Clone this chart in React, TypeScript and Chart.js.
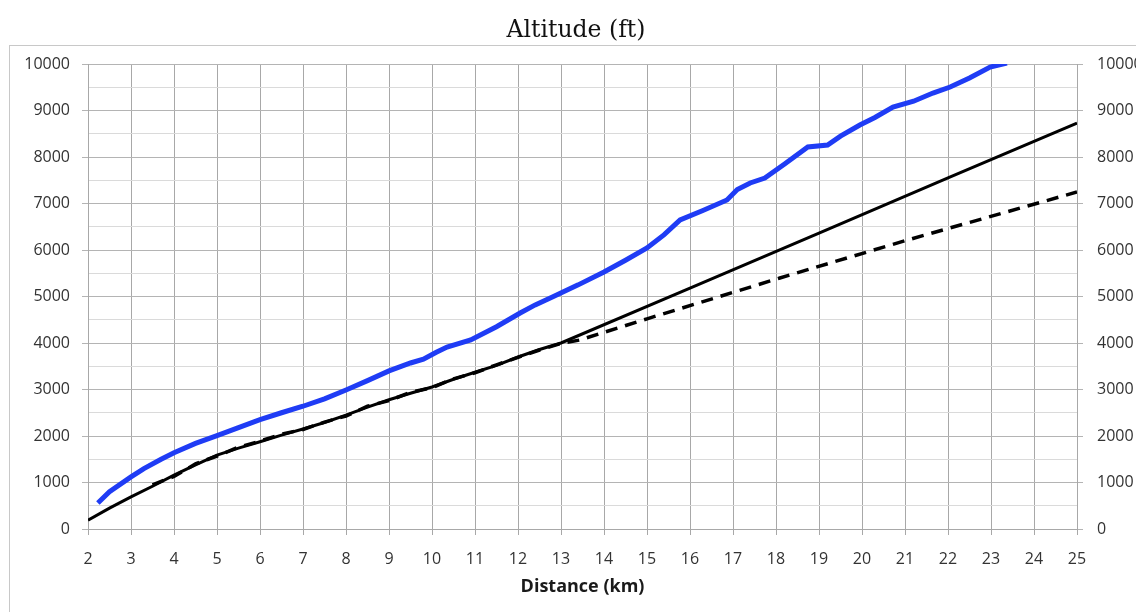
import React, { useEffect, useRef } from "react";
import { Chart, registerables } from "chart.js";

Chart.register(...registerables);

const chartTitle = "Altitude (ft)";
const xAxisTitle = "Distance (km)";

const blueKm = [2.23, 2.5, 3, 3.3, 3.7, 4, 4.5, 5, 5.5, 6, 6.5, 7, 7.5, 8, 8.5, 9, 9.5, 9.8, 10.1, 10.35, 10.9, 11.5, 12.05, 12.4, 12.8, 13.4, 14, 14.5, 15, 15.4, 15.77, 16.3, 16.86, 17.1, 17.4, 17.74, 18.2, 18.74, 19.2, 19.5, 19.95, 20.3, 20.72, 21.2, 21.65, 22.05, 22.5, 22.98, 23.37];
const blueAlt = [560, 800, 1120, 1300, 1500, 1640, 1840, 2010, 2180, 2350, 2500, 2640, 2800, 2990, 3190, 3400, 3570, 3650, 3800, 3914, 4065, 4350, 4645, 4820, 4989, 5250, 5527, 5780, 6043, 6330, 6645, 6850, 7075, 7300, 7441, 7548, 7850, 8215, 8258, 8450, 8688, 8850, 9075, 9200, 9376, 9505, 9700, 9935, 10020];

const solidKm = [2, 2.5, 3, 3.5, 4, 4.5, 5, 5.5, 6, 6.5, 7, 7.5, 8, 8.5, 9, 9.5, 10, 10.5, 11, 11.5, 12, 12.5, 13, 16, 19, 22, 25];
const solidAlt = [190, 450, 690, 920, 1160, 1380, 1590, 1740, 1875, 2020, 2150, 2290, 2450, 2620, 2780, 2920, 3054, 3220, 3370, 3520, 3699, 3860, 4000, 5180, 6365, 7550, 8731];

const dashedKm = [3.5, 4, 4.5, 5, 5.5, 6, 6.5, 7, 7.5, 8, 8.5, 9, 9.5, 10, 10.5, 11, 11.5, 12, 12.5, 13, 13.44, 15, 18.09, 21, 25];
const dashedAlt = [950, 1130, 1400, 1570, 1760, 1890, 2040, 2140, 2300, 2430, 2640, 2760, 2940, 3040, 3230, 3360, 3530, 3690, 3850, 3990, 4065, 4520, 5398, 6200, 7247];

const xMin = 2;
const xMax = 25;
const yMin = 0;
const yMax = 10000;

const toPoints = (xs: number[], ys: number[]) => xs.map((x, i) => ({ x, y: ys[i] }));

export default function App() {
  const canvasRef = useRef<HTMLCanvasElement | null>(null);

  useEffect(() => {
    if (!canvasRef.current) return;
    const tickFont = { family: "'Open Sans', sans-serif", size: 16 };
    const chart = new Chart(canvasRef.current, {
      type: "line",
      data: {
        datasets: [
          {
            data: toPoints(dashedKm, dashedAlt),
            borderColor: "#000000",
            borderWidth: 3.5,
            borderDash: [12, 8],
            pointRadius: 0,
            tension: 0,
            yAxisID: "y",
          },
          {
            data: toPoints(solidKm, solidAlt),
            borderColor: "#000000",
            borderWidth: 3,
            pointRadius: 0,
            tension: 0,
            yAxisID: "y",
          },
          {
            data: toPoints(blueKm, blueAlt),
            borderColor: "#1f3cf5",
            borderWidth: 5,
            pointRadius: 0,
            tension: 0,
            yAxisID: "y",
          },
        ],
      },
      options: {
        animation: false,
        responsive: false,
        maintainAspectRatio: false,
        layout: { padding: { left: 0, right: 0, top: 0, bottom: 0 } },
        plugins: {
          legend: { display: false },
          tooltip: { enabled: false },
          title: {
            display: true,
            text: chartTitle,
            color: "#111111",
            font: { family: "'DejaVu Serif', serif", size: 23.5, weight: "normal", lineHeight: 1.2 },
            padding: { top: 9, bottom: 18.8 },
          },
        },
        scales: {
          x: {
            type: "linear",
            min: xMin,
            max: xMax,
            ticks: { stepSize: 1, color: "#333333", font: tickFont, padding: 15, maxRotation: 0 },
            grid: { color: "#a8a8a8", tickLength: 6, tickColor: "#a8a8a8" },
            border: { color: "#a8a8a8" },
            title: {
              display: true,
              text: xAxisTitle,
              color: "#1a1a1a",
              font: { family: "'Open Sans', sans-serif", size: 18, weight: "bold", lineHeight: 1.2 },
              padding: { top: 0, bottom: 14 },
            },
            afterFit: (s: any) => { s.height = 83; },
          },
          y: {
            type: "linear",
            position: "left",
            min: yMin,
            max: yMax,
            ticks: {
              stepSize: 500,
              color: "#333333",
              font: tickFont,
              padding: 12,
              callback: (v: any) => (Number(v) % 1000 === 0 ? String(v) : ""),
            },
            grid: {
              color: (ctx: any) => (ctx.tick && ctx.tick.value % 1000 === 0 ? "#b4b4b4" : "#dadada"),
              tickColor: (ctx: any) => (ctx.tick && ctx.tick.value % 1000 === 0 ? "#b4b4b4" : "rgba(0,0,0,0)"),
              tickLength: 6,
            },
            border: { color: "#a8a8a8" },
            afterFit: (s: any) => { s.width = 80; },
          },
          y2: {
            type: "linear",
            position: "right",
            min: yMin,
            max: yMax,
            ticks: { stepSize: 1000, color: "#333333", font: tickFont, padding: 14, callback: (v: any) => String(v) },
            grid: { drawOnChartArea: false, tickLength: 6, tickColor: "#b4b4b4" },
            border: { color: "#a8a8a8" },
            afterFit: (s: any) => { s.width = 67; },
          },
        },
      },
    });
    return () => chart.destroy();
  }, []);

  return (
    <div style={{ position: "relative", width: 1136, height: 604, overflow: "hidden", background: "#ffffff" }}>
      <div
        style={{
          position: "absolute",
          left: 1,
          top: 37,
          width: 1400,
          height: 900,
          border: "1px solid #c8c8c8",
          boxSizing: "border-box",
        }}
      />
      <canvas ref={canvasRef} width={1136} height={604} style={{ position: "absolute", left: 0, top: 0, width: 1136, height: 604 }} />
    </div>
  );
}
